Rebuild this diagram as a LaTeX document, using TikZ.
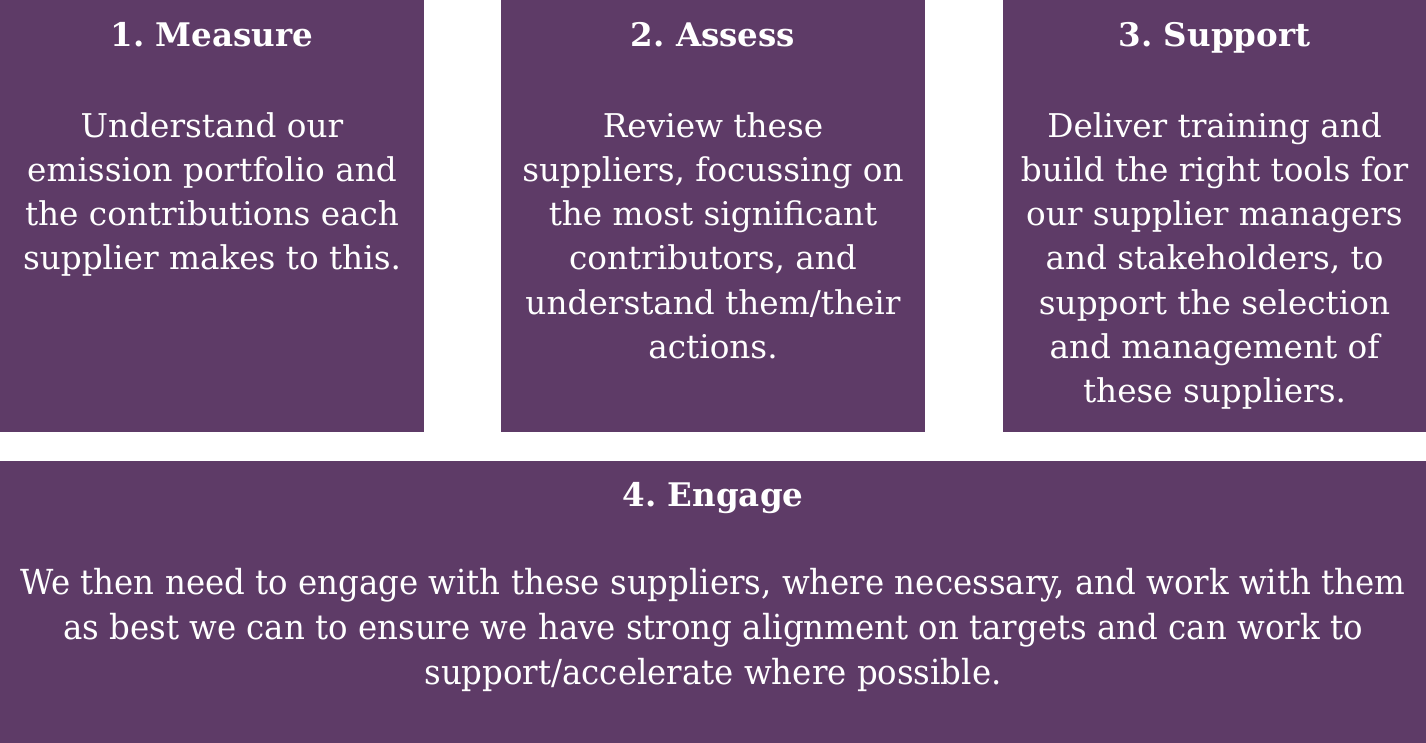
\documentclass[tikz,border=0pt]{standalone}
\usepackage{fontspec}
\setmainfont{DejaVu Serif}
\newfontfamily\narrowserif[FakeStretch=0.94]{DejaVu Serif}
\usetikzlibrary{positioning}
\definecolor{plum}{RGB}{94,59,103}
\frenchspacing

\begin{document}
\begin{tikzpicture}[x=1pt, y=1pt,
        panel/.style = {fill=plum, inner sep=0pt, anchor=north west},
        heading/.style = {text=white, inner sep=0pt, anchor=base,
                font=\bfseries\fontsize{32.5}{36}\selectfont},
        blurb/.style = {text=white, inner sep=0pt, anchor=north, align=center,
                font=\fontsize{32.7}{44.3}\selectfont}]
        \useasboundingbox (0,0) rectangle (1426,-743);
        % the three steps on top
        \node[panel, minimum width=424pt, minimum height=432pt] (measure) at (0,0) {};
        \node[panel, minimum width=424pt, minimum height=432pt] (assess) at (501,0) {};
        \node[panel, minimum width=423pt, minimum height=432pt] (support) at (1003,0) {};
        % the wide one below
        \node[panel, minimum width=1426pt, minimum height=282pt] (engage) at (0,-461) {};

        \node[heading] (measure title) at (212,-47) {1. Measure};
        \node[heading] (assess title) at (713,-47) {2. Assess};
        \node[heading] (support title) at (1214.5,-47) {3. Support};
        \node[heading] (engage title) at (713,-506) {4. Engage};

        \node[blurb] (measure text) at (212,-112) {Understand our\\
                emission portfolio and\\ the contributions each\\
                supplier makes to this.};
        \node[blurb] (assess text) at (713,-112) {Review these\\
                suppliers, focussing on\\ the most significant\\
                contributors, and\\ understand them/their\\ actions.};
        \node[blurb] (support text) at (1214.5,-112) {Deliver training and\\
                build the right tools for\\ our supplier managers\\
                and stakeholders, to\\ support the selection\\
                and management of\\ these suppliers.};
        \node[blurb, font=\narrowserif\fontsize{34.5}{45}\selectfont]
                (engage text) at (713,-568) {We then need to engage with these
                suppliers, where necessary, and work with them\\ as best we can
                to ensure we have strong alignment on targets and can work to\\
                support/accelerate where possible.};
\end{tikzpicture}
\end{document}
